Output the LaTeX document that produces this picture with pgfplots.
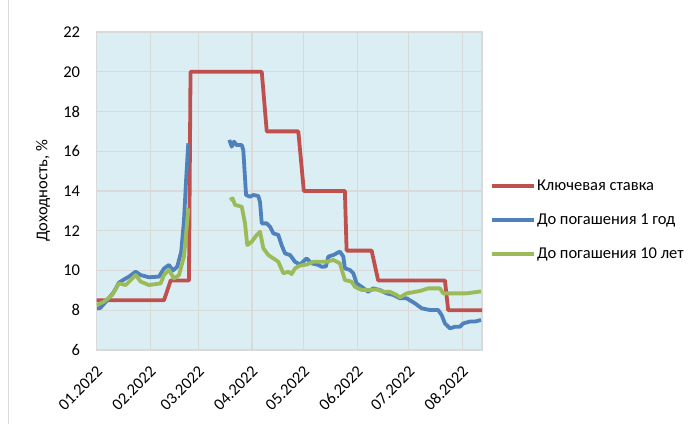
\documentclass[border=0pt]{standalone}
\usepackage{fontspec}
\setmainfont{Carlito}
\usepackage{pgfplots}
\pgfplotsset{compat=1.18}
\definecolor{kred}{HTML}{C0504D}
\definecolor{kblue}{HTML}{4F81BD}
\definecolor{kgreen}{HTML}{9BBB59}
\definecolor{bgblue}{HTML}{DAEEF3}
\definecolor{gridgray}{HTML}{D9D9D9}
\begin{document}
\fontsize{16.5bp}{19.8bp}\selectfont
\begin{tikzpicture}
\begin{axis}[
  at={(0,0)}, anchor=south west,
  scale only axis, width=385.3bp, height=318bp,
  xmin=0, xmax=223.4, ymin=6, ymax=22,
  xtick={0,31,59,90,120,151,181,212},
  xticklabels={01.2022,02.2022,03.2022,04.2022,05.2022,06.2022,07.2022,08.2022},
  ytick={6,8,...,22},
  /pgf/number format/assume math mode=true,
  major tick length=0pt,
  grid=major,
  major grid style={draw=gridgray, line width=1.2bp},
  axis line style={draw=gridgray, line width=1.2bp},
  axis background/.style={fill=bgblue},
  xticklabel style={yshift=-19bp, xshift=3bp, rotate=45, anchor=east, inner sep=0pt},
  yticklabel style={xshift=-11bp},
  ylabel={Доходность, \%},
  ylabel style={at={(axis description cs:-0.139,0.5)}, anchor=center},
  unbounded coords=jump,
  every axis plot/.append style={line width=3.8bp, line join=round},
  legend cell align=left,
  legend image code/.code={\draw[#1] (0bp,0bp) -- (42bp,0bp);},
  legend style={at={(1.0208,0.4088)}, anchor=west, draw=none, fill=none,
    inner xsep=0pt, inner ysep=0pt, row sep=16bp,
    nodes={inner sep=1bp, text height=12bp, text depth=4bp}},
]
\addplot[kred] coordinates {
(0,8.5) (39.0,8.5) (42.9,9.5) (53.5,9.5) (54.4,20) (95.7,20) (98.6,17)
(116.9,17) (120.1,14) (143.9,14) (144.9,11) (159.4,11) (163.2,9.5)
(201.9,9.5) (203.8,8) (223.4,8)
};
\addlegendentry{Ключевая ставка}
\addplot[kblue] coordinates {
(0.3,8.1) (1.9,8.1) (6.1,8.5) (10.0,8.93) (12.9,9.39) (16.8,9.6) (18.7,9.69)
(22.6,9.94) (25.5,9.77) (30.3,9.66) (36.1,9.69) (39.0,10.1) (41.9,10.28)
(44.2,10.0) (46.7,10.19) (49.0,10.95) (50.6,12.5) (51.8,14.5) (53.1,16.4)
(60,nan)
(76.9,16.57) (78.3,16.23) (79.6,16.48) (81.2,16.31) (84.1,16.31) (85.0,16.06)
(86.6,13.8) (88.9,13.71) (90.8,13.8) (93.7,13.75) (94.7,13.45) (95.7,12.37)
(98.6,12.37) (100.5,12.2) (102.4,11.87) (105.3,11.79) (107.2,11.28) (109.2,10.86)
(112.1,10.78) (115.0,10.44) (117.9,10.3) (121.7,10.61) (124.6,10.36) (128.5,10.28)
(130.4,10.19) (132.9,10.2) (134.3,10.7) (137.2,10.78) (141.0,10.95) (143.0,10.7)
(143.9,10.11) (146.8,10.03) (148.8,9.86) (150.7,9.35) (153.6,9.18) (157.4,8.93)
(160.3,9.1) (164.2,9.02) (168.1,8.85) (171.9,8.77) (175.8,8.6) (179.7,8.6)
(184.5,8.35) (188.4,8.1) (193.2,8.01) (198.0,8.01) (200.0,7.76) (201.9,7.34)
(204.8,7.09) (207.7,7.17) (210.6,7.17) (212.5,7.34) (216.4,7.43) (219.3,7.43)
(222.8,7.51)
};
\addlegendentry{До погашения 1 год}
\addplot[kgreen] coordinates {
(0,8.26) (4.2,8.43) (9.0,8.77) (12.9,9.35) (16.8,9.27) (19.7,9.52) (22.6,9.77)
(25.5,9.44) (30.3,9.27) (37.1,9.35) (39.0,9.77) (41.9,10.03) (44.8,9.6)
(47.7,9.77) (50.6,10.7) (52.4,12.4) (53.1,13.13)
(60,nan)
(77.3,13.55) (78.8,13.63) (80.2,13.3) (84.1,13.21) (86.0,12.37) (87.3,11.28)
(89.9,11.45) (92.8,11.79) (94.7,11.95) (96.6,11.12) (99.5,10.78) (102.4,10.61)
(105.3,10.44) (108.2,9.86) (111.1,9.94) (113.0,9.82) (115.0,10.11) (117.9,10.25)
(121.7,10.3) (125.6,10.44) (133.3,10.44) (137.2,10.53) (141.0,10.36) (143.9,9.52)
(147.8,9.44) (149.7,9.18) (153.6,9.02) (158.4,9.02) (162.3,9.05) (166.1,8.93)
(170.0,8.93) (173.9,8.77) (175.8,8.65) (179.7,8.85) (187.4,8.97) (192.2,9.1)
(199.0,9.1) (200.9,8.85) (206.7,8.85) (214.5,8.85) (222.8,8.95)
};
\addlegendentry{До погашения 10 лет}
\end{axis}
\draw[gridgray, line width=1bp] (-88.4bp,-74bp) -- (-88.4bp,350bp);
\pgfresetboundingbox
\useasboundingbox (-96.7bp,-74bp) rectangle (601.3bp,350bp);
\end{tikzpicture}
\end{document}
